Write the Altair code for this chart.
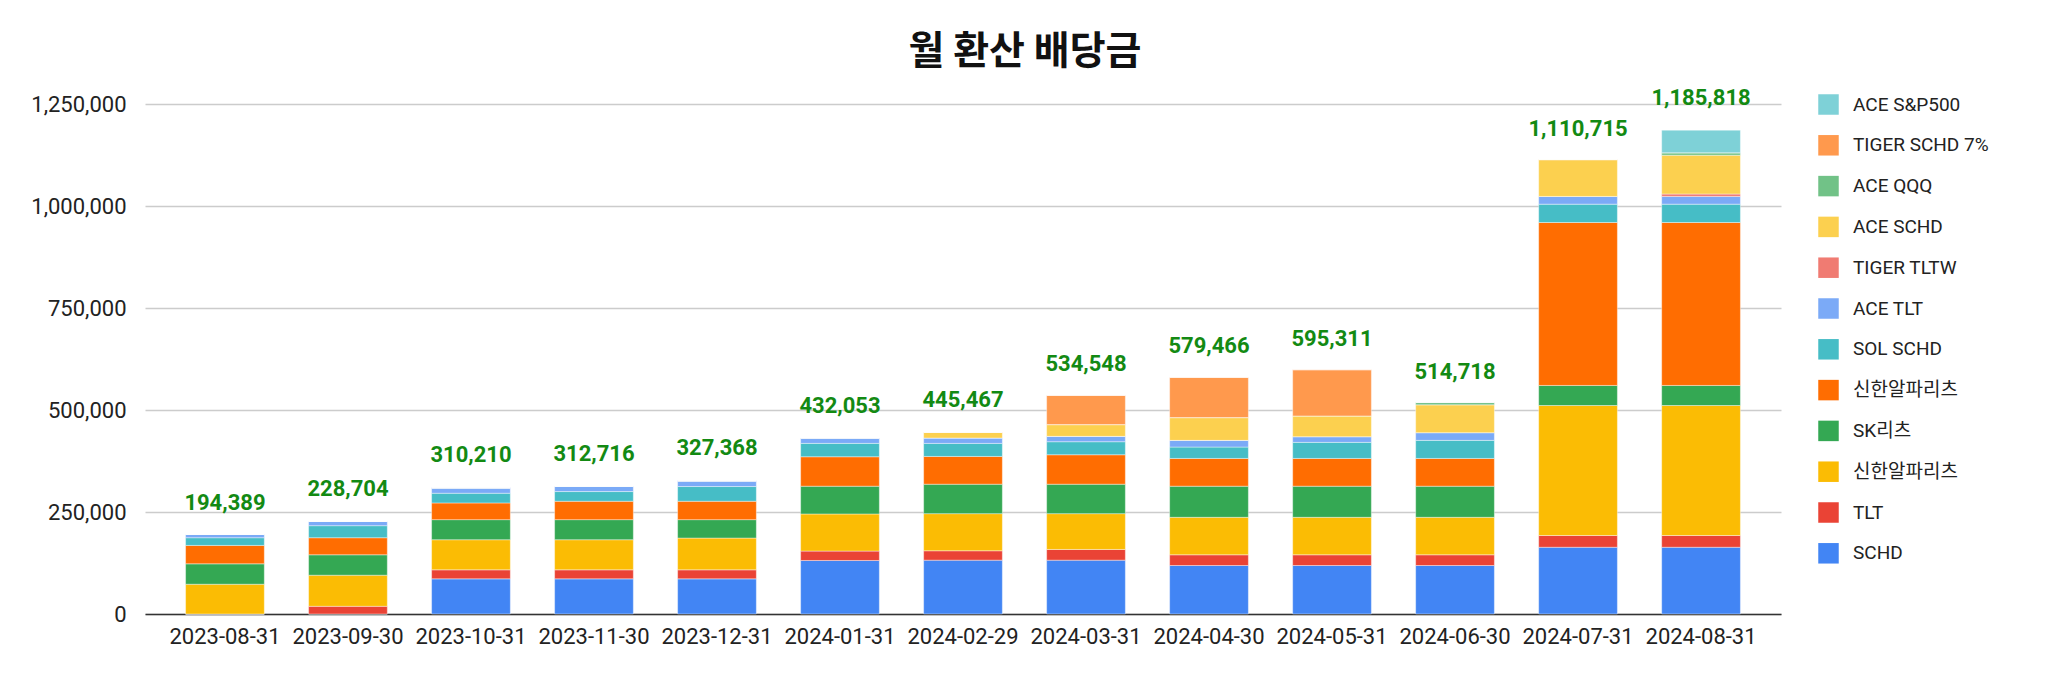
import altair as alt
import pandas as pd

dates = ["2023-08-31", "2023-09-30", "2023-10-31", "2023-11-30", "2023-12-31",
         "2024-01-31", "2024-02-29", "2024-03-31", "2024-04-30", "2024-05-31",
         "2024-06-30", "2024-07-31", "2024-08-31"]

totals = [194389, 228704, 310210, 312716, 327368, 432053, 445467,
          534548, 579466, 595311, 514718, 1110715, 1185818]

# series, bottom of stack first
series_names = ["SCHD", "TLT", "신한알파리츠", "SK리츠", "신한알파리츠", "SOL SCHD",
                "ACE TLT", "TIGER TLTW", "ACE SCHD", "ACE QQQ", "TIGER SCHD 7%", "ACE S&P500"]
series_colors = ["#4285F4", "#EA4335", "#FBBC04", "#34A853", "#FF6D01", "#46BDC6",
                 "#7BAAF7", "#F07B72", "#FCD04F", "#71C287", "#FF994D", "#7ED1D7"]

schd = [0, 0, 86100, 86100, 86100, 131200, 132000, 132000, 118900, 118900, 118900, 163600, 163600]
tlt = [0, 18860, 22140, 22140, 22140, 22960, 22960, 26240, 26240, 26240, 26240, 28800, 28800]
shinhan_a = [72980, 76260, 73800, 73800, 77900, 91020, 91020, 87740, 91840, 91840, 91840, 318600, 318600]
sk_reit = [50020, 50020, 49200, 49200, 45100, 68060, 72160, 72160, 76260, 76260, 76260, 49200, 49200]
shinhan_b = [45100, 41820, 41000, 45100, 45100, 72160, 68060, 72160, 68060, 68060, 68060, 399300, 399300]
sol_schd = [18860, 29520, 23780, 23780, 36080, 32800, 31980, 31980, 27880, 39360, 44280, 45000, 45000]
ace_tlt = [8200, 10660, 13120, 13120, 13940, 13280, 13120, 13120, 16400, 13940, 18900, 18900, 18900]
tiger_tltw = [0, 0, 0, 0, 0, 0, 0, 0, 0, 0, 0, 0, 6000]
ace_schd = [0, 0, 0, 0, 0, 0, 13940, 28780, 55760, 50840, 68100, 90300, 95000]
ace_qqq = [0, 0, 0, 0, 0, 0, 0, 0, 0, 0, 5700, 0, 6000]
tiger_schd7 = [0, 0, 0, 0, 0, 0, 0, 71340, 98400, 113160, 0, 0, 0]
ace_sp500 = [0, 0, 0, 0, 0, 0, 0, 0, 0, 0, 0, 0, 55500]

y_ticks = [0, 250000, 500000, 750000, 1000000, 1250000]

series_values = [schd, tlt, shinhan_a, sk_reit, shinhan_b, sol_schd,
                 ace_tlt, tiger_tltw, ace_schd, ace_qqq, tiger_schd7, ace_sp500]

keys = [f"k{i:02d}" for i in range(len(series_names))]
rows = []
for i, (k, vals) in enumerate(zip(keys, series_values)):
    for d, v in zip(dates, vals):
        rows.append({"date": d, "key": k, "idx": i, "value": v})
df = pd.DataFrame(rows)
tot_df = pd.DataFrame({"date": dates, "total": totals})

legend_keys = keys[::-1]
legend_colors = series_colors[::-1]
expr = "''"
for k, n in zip(keys, series_names):
    expr = f"datum.value == '{k}' ? '{n}' : ({expr})"

FONT = "Roboto, 'Noto Sans CJK KR', sans-serif"
yscale = alt.Scale(domain=[0, 1250000], nice=False)
xscale = alt.Scale(paddingInner=0.36, paddingOuter=0.33)

x_axis = alt.Axis(title=None, labelAngle=0, ticks=False, labelPadding=12,
                  labelFontSize=22, labelColor="#222222", labelFont=FONT,
                  domainColor="#333333", domainWidth=1.5)
y_axis = alt.Axis(title=None, values=y_ticks, labelExpr="format(datum.value, ',')",
                  ticks=False, domain=False, labelPadding=19,
                  labelFontSize=22, labelColor="#222222", labelFont=FONT,
                  gridColor="#cccccc", gridWidth=1.3)

bars = alt.Chart(df).mark_bar(stroke="white", strokeWidth=0.8, strokeOpacity=0.5).encode(
    x=alt.X("date:N", sort=dates, scale=xscale, axis=x_axis),
    y=alt.Y("value:Q", stack="zero", scale=yscale, axis=y_axis),
    color=alt.Color("key:N",
                    scale=alt.Scale(domain=legend_keys, range=legend_colors),
                    legend=alt.Legend(title=None, labelExpr=expr, symbolType="square",
                                      symbolSize=420, symbolStrokeWidth=0, labelFontSize=19,
                                      labelFont=FONT, labelColor="#222222", rowPadding=19.8,
                                      orient="none", legendX=1673, legendY=-10,
                                      labelOffset=14)),
    order=alt.Order("idx:Q", sort="ascending"),
)

labels = alt.Chart(tot_df).mark_text(
    dy=-32, fontWeight="bold", fontSize=22, color="#138A13", font=FONT
).encode(
    x=alt.X("date:N", sort=dates, scale=xscale, axis=x_axis),
    y=alt.Y("total:Q", scale=yscale, axis=y_axis),
    text=alt.Text("total:Q", format=","),
)

chart = alt.layer(bars, labels).properties(
    width=1636, height=510,
    title=alt.TitleParams("월 환산 배당금", fontSize=39, fontWeight="bold",
                          font="'Noto Sans CJK KR', sans-serif", color="#111111",
                          anchor="middle", dx=62, offset=15),
    padding={"left": 22, "top": 25, "right": 5, "bottom": 5},
).configure_view(stroke=None)

chart.save("out.html", embed_options={"renderer": "svg", "actions": False})
